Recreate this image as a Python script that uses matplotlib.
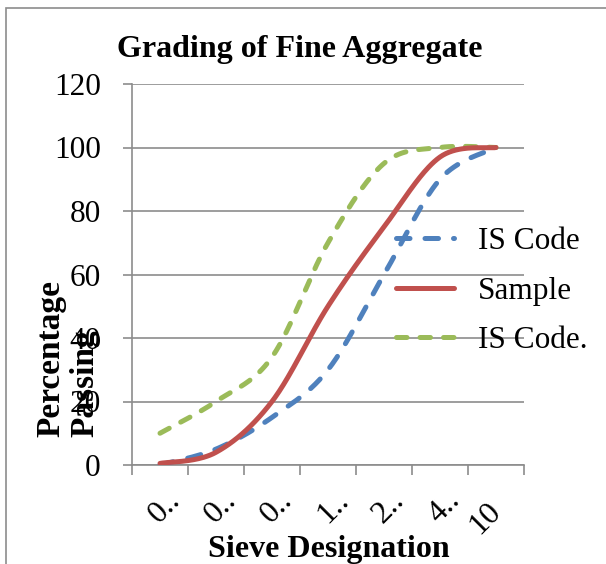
import numpy as np
import matplotlib
matplotlib.use("Agg")
import matplotlib.pyplot as plt
import matplotlib.transforms as mtransforms
from matplotlib.patches import Rectangle

plt.rcParams['font.family'] = ['Liberation Serif', 'DejaVu Serif']

# sieve sizes (mm), shown truncated like the original Excel axis
sieve_labels = ["0..", "0..", "0..", "1..", "2..", "4..", "10"]
is_code_lower = [0, 5, 15, 30, 60, 90, 100]
sample = [0.5, 4, 20, 50, 75, 97, 100]
is_code_upper = [10, 20, 34, 70, 95, 100, 100]


def smooth(y, n=40):
    # excel-like smoothed line (catmull-rom bezier)
    x = np.arange(len(y), dtype=float)
    y = np.asarray(y, dtype=float)
    pts = np.column_stack([x, y])
    pts = np.vstack([pts[0], pts, pts[-1]])
    out = []
    t = np.linspace(0, 1, n)[:, None]
    for i in range(1, len(pts) - 2):
        p0, p1, p2, p3 = pts[i - 1], pts[i], pts[i + 1], pts[i + 2]
        c1 = p1 + (p2 - p0) / 6
        c2 = p2 - (p3 - p1) / 6
        seg = ((1 - t) ** 3) * p1 + 3 * ((1 - t) ** 2) * t * c1 + 3 * (1 - t) * t ** 2 * c2 + t ** 3 * p2
        out.append(seg if i == 1 else seg[1:])
    out = np.vstack(out)
    return out[:, 0], out[:, 1]


W, H = 606, 564
fig = plt.figure(figsize=(W / 100, H / 100), dpi=100)
ax = fig.add_axes([132 / W, 1 - 465 / H, (524 - 132) / W, (465 - 84) / H])

blue = '#4F81BD'
red = '#C0504D'
green = '#9BBB59'
lw = 3.6

xs, ys = smooth(is_code_lower)
ax.plot(xs, ys, color=blue, lw=lw, ls=(0, (2.7, 3.0)), dash_capstyle='round', label='IS Code', zorder=3)
xs, ys = smooth(sample)
ax.plot(xs, ys, color=red, lw=lw, solid_capstyle='round', label='Sample', zorder=4)
xs, ys = smooth(is_code_upper)
ax.plot(xs, ys, color=green, lw=lw, ls=(0, (2.1, 2.6)), dash_capstyle='round', label='IS Code.', zorder=3)

ax.set_xlim(-0.5, 6.5)
ax.set_ylim(0, 120)
ax.set_yticks(range(0, 121, 20))
ax.yaxis.grid(True, color='#8c8c8c', lw=1.2)
ax.set_axisbelow(True)
for s in ['top', 'right']:
    ax.spines[s].set_visible(False)
for s in ['left', 'bottom']:
    ax.spines[s].set_color('#8c8c8c')
    ax.spines[s].set_linewidth(1.2)

ax.set_xticks(np.arange(-0.5, 7, 1))
ax.set_xticklabels([])
ax.set_xticks(range(7), minor=True)
ax.set_xticklabels(sieve_labels, minor=True, rotation=45, ha='right', va='center',
                   rotation_mode='anchor', fontsize=23)
ax.tick_params(axis='x', which='major', length=7.5, width=1.2, color='#8c8c8c', direction='out')
ax.tick_params(axis='x', which='minor', length=0, pad=30)
ax.tick_params(axis='y', length=6.5, width=1.2, color='#8c8c8c', labelsize=22.5, pad=16)

# truncated labels sit a little further right in the original
for lab in ax.get_xticklabels(minor=True):
    if lab.get_text().endswith('..'):
        lab.set_transform(lab.get_transform() + mtransforms.ScaledTranslation(16 / 100, 11 / 100, fig.dpi_scale_trans))

fig.text(300 / W, 1 - 50 / H, 'Grading of Fine Aggregate', fontsize=23, fontweight='bold',
         ha='center', va='center')
fig.text(329 / W, 1 - 550 / H, 'Sieve Designation', fontsize=23, fontweight='bold',
         ha='center', va='center')
fig.text(68 / W, 1 - 437 / H, 'Percentage\nPassing', fontsize=24, fontweight='bold',
         rotation=90, ha='center', va='bottom', multialignment='left', linespacing=1.1)

leg = ax.legend(loc='upper left', bbox_to_anchor=(396 / W, 1 - 227 / H), bbox_transform=fig.transFigure,
                frameon=False, fontsize=22.5, handlelength=1.85, handletextpad=0.77,
                labelspacing=0.66, borderpad=0, borderaxespad=0)

fig.patches.append(Rectangle((6 / W, -0.05), 1.1, 1 - 8 / H + 0.05, transform=fig.transFigure,
                             fill=False, edgecolor='#8c8c8c', lw=1.2))

fig.savefig('out.png', dpi=100)
